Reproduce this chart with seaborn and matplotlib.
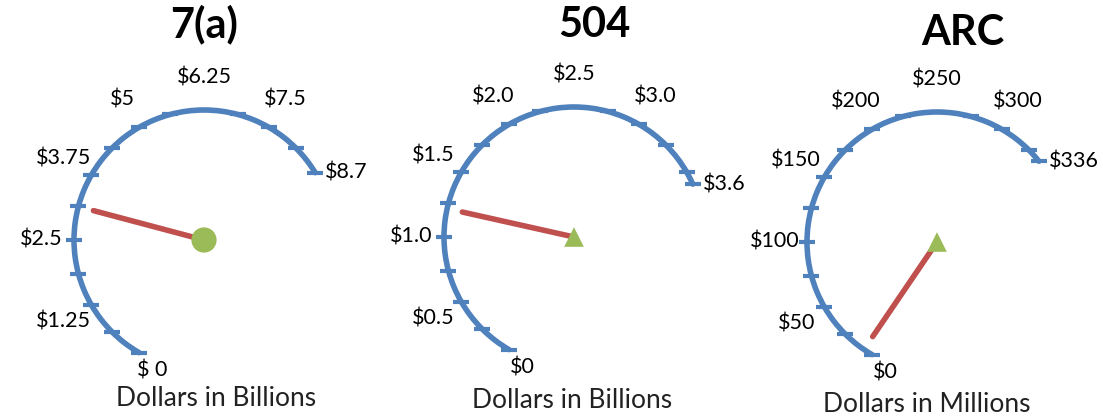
import numpy as np
import pandas as pd
import matplotlib
matplotlib.use("Agg")
import matplotlib.pyplot as plt
import seaborn as sns

sns.set_theme(style="white")
plt.rcParams["font.family"] = ["Lato", "DejaVu Sans"]

# ---- 7(a): dollars in billions ----
a7_ticks = [0, 0.625, 1.25, 1.875, 2.5, 3.125, 3.75, 4.375, 5, 5.625, 6.25,
            6.875, 7.5, 8.125, 8.7]
a7_label_values = [0, 1.25, 2.5, 3.75, 5, 6.25, 7.5, 8.7]
a7_labels = ["$ 0", "$1.25", "$2.5", "$3.75", "$5", "$6.25", "$7.5", "$8.7"]
a7_needle = 3.12
a7_full = 8.75

# ---- 504: dollars in billions ----
s504_ticks = [0, 0.25, 0.5, 0.75, 1.0, 1.25, 1.5, 1.75, 2.0, 2.25, 2.5,
              2.75, 3.0, 3.25, 3.5, 3.6]
s504_label_values = [0, 0.5, 1.0, 1.5, 2.0, 2.5, 3.0, 3.6]
s504_labels = ["$0", "$0.5", "$1.0", "$1.5", "$2.0", "$2.5", "$3.0", "$3.6"]
s504_needle = 1.21
s504_full = 3.5

# ---- ARC: dollars in millions ----
arc_ticks = [0, 25, 50, 75, 100, 125, 150, 175, 200, 225, 250, 275, 300,
             325, 336]
arc_label_values = [0, 50, 100, 150, 200, 250, 300, 336]
arc_labels = ["$0", "$50", "$100", "$150", "$200", "$250", "$300", "$336"]
arc_needle = 7
arc_full = 350

titles = ["7(a)", "504", "ARC"]
units = ["Dollars in Billions", "Dollars in Billions", "Dollars in Millions"]

BLUE = "#4F81BD"
RED = "#C0504D"
GREEN = "#9BBB59"
START_DEG = 240.0
SWEEP_DEG = 210.0
NEEDLE_LEN = 0.88
LABEL_FS = 15.5

W, H = 1103, 417
R = 130
fig = plt.figure(figsize=(W / 100, H / 100), dpi=100)
fig.patch.set_facecolor("white")


def gauge_axes(cx, cy):
    ax = fig.add_axes([(cx - R) / W, (H - cy - R) / H, 2 * R / W, 2 * R / H],
                      projection="polar")
    ax.set_theta_direction(-1)
    ax.set_theta_offset(np.deg2rad(START_DEG))
    return ax


def draw_gauge(ax, ticks, label_values, labels, needle, full, marker, msize):
    def to_theta(v):
        return np.deg2rad(SWEEP_DEG) * np.asarray(v, dtype=float) / full

    arc = pd.DataFrame({"theta": to_theta(ticks), "r": np.ones(len(ticks))})
    sns.lineplot(data=arc, x="theta", y="r", ax=ax, color=BLUE, linewidth=4,
                 estimator=None, sort=False, marker="_", markersize=11,
                 markeredgewidth=3, markeredgecolor=BLUE)

    nd = pd.DataFrame({"theta": to_theta([needle, needle]), "r": [0.0, NEEDLE_LEN]})
    sns.lineplot(data=nd, x="theta", y="r", ax=ax, color=RED, linewidth=4,
                 estimator=None, sort=False)

    sns.scatterplot(x=[0.0], y=[0.0], ax=ax, marker=marker, s=msize,
                    color=GREEN, edgecolor="none", zorder=5)

    for line in ax.lines:
        line.set_clip_on(False)
        line.get_path()._interpolation_steps = 60
    for coll in ax.collections:
        coll.set_clip_on(False)

    # scale labels
    n = len(labels)
    for i, (v, t) in enumerate(zip(label_values, labels)):
        th = float(to_theta(v))
        if i == 0:
            ax.annotate(t, (th, 1.0), xytext=(13, -18), textcoords="offset pixels",
                        ha="center", va="center", fontsize=LABEL_FS, color="black",
                        annotation_clip=False)
        elif i == n - 1:
            ax.annotate(t, (th, 1.0), xytext=(10, 0), textcoords="offset pixels",
                        ha="left", va="center", fontsize=LABEL_FS, color="black",
                        annotation_clip=False)
        else:
            ax.text(th, 1.25, t, ha="center", va="center", fontsize=LABEL_FS,
                    color="black", clip_on=False)

    ax.set_rlim(0, 1)
    ax.set_axis_off()


gauges = [
    ((204, 240), a7_ticks, a7_label_values, a7_labels, a7_needle, a7_full, "o", 330),
    ((574, 237), s504_ticks, s504_label_values, s504_labels, s504_needle, s504_full, "^", 200),
    ((937, 242), arc_ticks, arc_label_values, arc_labels, arc_needle, arc_full, "^", 200),
]
for (cx, cy), tk, lv, lb, nv, full, mk, ms in gauges:
    ax = gauge_axes(cx, cy)
    draw_gauge(ax, tk, lv, lb, nv, full, mk, ms)

title_pos = [(204, 37), (594, 37), (963, 45)]
for t, (x, y) in zip(titles, title_pos):
    fig.text(x / W, 1 - y / H, t, ha="center", va="baseline", fontsize=30,
             fontweight="bold", color="black")

unit_pos = [(216, 399), (572, 401), (927, 404)]
for t, (x, y) in zip(units, unit_pos):
    fig.text(x / W, 1 - y / H, t, ha="center", va="center", fontsize=19,
             color="#222222")

fig.savefig("out.png", dpi=100, facecolor="white")
